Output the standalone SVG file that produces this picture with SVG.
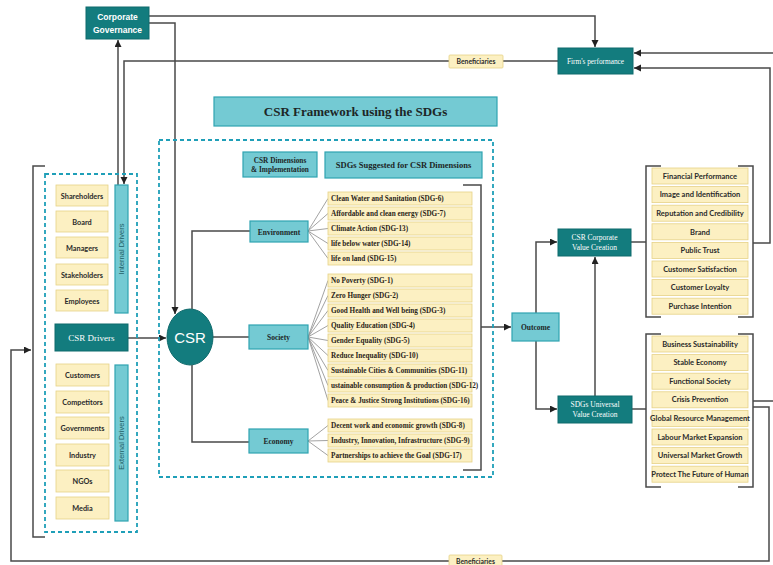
<svg xmlns="http://www.w3.org/2000/svg" width="773" height="565" viewBox="0 0 773 565">
<style>
.dk{fill:#137c7e;stroke:#0f6a6c;stroke-width:1}
.lt{fill:#74cad3;stroke:#2fa3b1;stroke-width:1.2}
.yl{fill:#fcf0c2;stroke:#e6d287;stroke-width:0.8}
.dash{fill:none;stroke:#1f9fb8;stroke-width:1.8;stroke-dasharray:4 3}
.ln{fill:none;stroke:#4a4a4a;stroke-width:1.5}
.fan{fill:none;stroke:#8a8a8a;stroke-width:0.8}
.wsans{font-family:"Liberation Sans",Arial,sans-serif;fill:#fff}
.wserif{font-family:"Liberation Serif","Times New Roman",serif;fill:#fff}
.bserif{font-family:"Liberation Serif","Times New Roman",serif;font-weight:bold;fill:#1d2626}
.bsans{font-family:Lato,"Liberation Sans",sans-serif;font-weight:bold;fill:#2a2a2a}
.sdg{font-family:"Liberation Serif","Times New Roman",serif;font-weight:bold;fill:#2a2418;font-size:7.2px}
.rl{font-family:Lato,"Liberation Sans",sans-serif;font-weight:bold;fill:#2a2a2a;font-size:7.5px;text-anchor:middle}
.li{font-family:Lato,"Liberation Sans",sans-serif;font-weight:bold;fill:#2a2a2a;font-size:7.3px;text-anchor:middle}
.vt{font-family:"Liberation Sans",Arial,sans-serif;fill:#1f5e66;font-size:7.5px;text-anchor:middle}
</style>
<defs>
<marker id="ar" markerUnits="userSpaceOnUse" markerWidth="8" markerHeight="8" refX="7" refY="3.5" orient="auto">
<path d="M0,0 L7,3.5 L0,7 z" fill="#222"/>
</marker>
</defs>
<rect width="773" height="565" fill="#fff"/>

<g id="connectors">
<path class="ln" d="M149,16 H595 V47" marker-end="url(#ar)"/>
<path class="ln" d="M149,23 H175 V314" marker-end="url(#ar)"/>
<path class="ln" d="M118,185 V40" marker-end="url(#ar)"/>
<path class="ln" d="M558,61 H124 V184" marker-end="url(#ar)"/>
<path class="ln" d="M773,53 H634" marker-end="url(#ar)"/>
<path class="ln" d="M753,243 H770 V68 H634" marker-end="url(#ar)"/>
<path class="ln" d="M753,401 H773"/>
<path class="ln" d="M753,407 H769 V561 H11 V350 H31" marker-end="url(#ar)"/>
<path class="ln" d="M45,166 H33 V537 H45"/>
<path class="ln" d="M128,338 H166" marker-end="url(#ar)"/>
<path class="ln" d="M192,309 V231 H250"/>
<path class="ln" d="M213,337 H249"/>
<path class="ln" d="M192,365 V442 H249"/>
<path class="ln" d="M463,185 H481 V470 H463"/>
<path class="ln" d="M481,327 H511" marker-end="url(#ar)"/>
<path class="ln" d="M536,313 V242 H557" marker-end="url(#ar)"/>
<path class="ln" d="M536,341 V409 H557" marker-end="url(#ar)"/>
<path class="ln" d="M595,396 V257" marker-end="url(#ar)"/>
<path class="ln" d="M631,242 H646"/>
<path class="ln" d="M632,409 H646"/>
<path class="ln" d="M661,166 H646 V317 H661 M738,166 H753 V317 H738"/>
<path class="ln" d="M661,334 H646 V487 H661 M738,334 H753 V487 H738"/>
<g class="fan">
<path d="M308,231 L328,198.5 M308,231 L328,213.5 M308,231 L328,228.5 M308,231 L328,243.5 M308,231 L328,258.5"/>
<path d="M308,337 L328,280.5 M308,337 L328,295.5 M308,337 L328,310.5 M308,337 L328,325.5 M308,337 L328,340.5 M308,337 L328,355.5 M308,337 L328,370.5 M308,337 L328,385.5 M308,337 L328,400.5"/>
<path d="M308,441 L328,425.5 M308,441 L328,440.5 M308,441 L328,455.5"/>
</g>
</g>

<g id="corporate-governance">
<rect class="dk" x="86" y="7" width="63" height="32"/>
<text class="wsans" font-size="8.5" font-weight="bold" text-anchor="middle" x="117.5" y="20">Corporate</text>
<text class="wsans" font-size="8.5" font-weight="bold" text-anchor="middle" x="117.5" y="33">Governance</text>
</g>

<g id="beneficiaries-top">
<rect class="yl" x="449" y="55" width="54" height="13" rx="1"/>
<text class="bsans" font-size="6.8" text-anchor="middle" x="476" y="64">Beneficiaries</text>
</g>

<g id="beneficiaries-bottom">
<rect class="yl" x="449" y="555" width="53" height="13" rx="1"/>
<text class="bsans" font-size="6.8" text-anchor="middle" x="475.5" y="564">Beneficiaries</text>
</g>

<g id="firms-performance">
<rect class="dk" x="558" y="48" width="75" height="26"/>
<text class="wserif" font-size="7.3" text-anchor="middle" x="595.5" y="63.5">Firm's performance</text>
</g>

<g id="title">
<rect class="lt" x="214" y="97" width="283" height="29"/>
<text class="bserif" font-size="13" text-anchor="middle" x="355.5" y="116">CSR Framework using the SDGs</text>
</g>

<g id="drivers-frame">
<rect class="dash" x="45" y="174" width="92" height="358"/>
</g>

<g id="internal-drivers">
<rect class="yl" x="56" y="185" width="52" height="21"/>
<text class="li" x="82" y="198.5">Shareholders</text>
<rect class="yl" x="56" y="211" width="52" height="21"/>
<text class="li" x="82" y="224.5">Board</text>
<rect class="yl" x="56" y="237" width="52" height="21"/>
<text class="li" x="82" y="250.5">Managers</text>
<rect class="yl" x="56" y="264" width="52" height="21"/>
<text class="li" x="82" y="277.5">Stakeholders</text>
<rect class="yl" x="56" y="290" width="52" height="21"/>
<text class="li" x="82" y="303.5">Employees</text>
<rect class="lt" x="115" y="185" width="13" height="128"/>
<text class="vt" transform="translate(124.2,249) rotate(-90)">Internal Drivers</text>
</g>

<g id="csr-drivers">
<rect class="dk" x="55" y="324" width="73" height="27"/>
<text class="wserif" font-size="9" text-anchor="middle" x="91.5" y="341">CSR Drivers</text>
</g>

<g id="external-drivers">
<rect class="yl" x="56" y="364" width="53" height="22"/>
<text class="li" x="82.5" y="378">Customers</text>
<rect class="yl" x="56" y="391" width="53" height="22"/>
<text class="li" x="82.5" y="405">Competitors</text>
<rect class="yl" x="56" y="417" width="53" height="22"/>
<text class="li" x="82.5" y="431">Governments</text>
<rect class="yl" x="56" y="444" width="53" height="22"/>
<text class="li" x="82.5" y="458">Industry</text>
<rect class="yl" x="56" y="470" width="53" height="22"/>
<text class="li" x="82.5" y="484">NGOs</text>
<rect class="yl" x="56" y="497" width="53" height="22"/>
<text class="li" x="82.5" y="511">Media</text>
<rect class="lt" x="115" y="365" width="13" height="156"/>
<text class="vt" transform="translate(124.2,443) rotate(-90)">External Drivers</text>
</g>

<g id="csr">
<ellipse cx="190" cy="337" rx="23" ry="28" fill="#137c7e" stroke="#0f6a6c"/>
<text class="wsans" font-size="15" text-anchor="middle" x="190" y="342.5">CSR</text>
</g>

<g id="framework-frame">
<rect class="dash" x="159" y="140" width="334" height="337"/>
</g>

<g id="csr-dimensions-header">
<rect class="lt" x="243" y="152" width="74" height="25"/>
<text class="bserif" font-size="7.3" text-anchor="middle" x="280" y="162.5">CSR Dimensions</text>
<text class="bserif" font-size="7.3" text-anchor="middle" x="280" y="172">&amp; Implementation</text>
</g>

<g id="sdgs-header">
<rect class="lt" x="325" y="152" width="157" height="26"/>
<text class="bserif" font-size="8.5" text-anchor="middle" x="403.5" y="168">SDGs Suggested for CSR Dimensions</text>
</g>

<g id="environment">
<rect class="lt" x="250" y="221" width="58" height="21"/>
<text class="bserif" font-size="7.5" text-anchor="middle" x="279" y="234.5">Environment</text>
</g>
<g id="society">
<rect class="lt" x="249" y="325" width="59" height="24"/>
<text class="bserif" font-size="7.5" text-anchor="middle" x="278.5" y="340">Society</text>
</g>
<g id="economy">
<rect class="lt" x="249" y="429" width="59" height="24"/>
<text class="bserif" font-size="7.5" text-anchor="middle" x="278.5" y="444">Economy</text>
</g>

<g id="env-sdgs">
<rect class="yl" x="328" y="192" width="144" height="13"/><text class="sdg" x="331" y="201">Clean Water and Sanitation (SDG-6)</text>
<rect class="yl" x="328" y="207" width="144" height="13"/><text class="sdg" x="331" y="216">Affordable and clean energy (SDG-7)</text>
<rect class="yl" x="328" y="222" width="144" height="13"/><text class="sdg" x="331" y="231">Climate Action (SDG-13)</text>
<rect class="yl" x="328" y="237" width="144" height="13"/><text class="sdg" x="331" y="246">life below water (SDG-14)</text>
<rect class="yl" x="328" y="252" width="144" height="13"/><text class="sdg" x="331" y="261">life on land (SDG-15)</text>
</g>

<g id="society-sdgs">
<rect class="yl" x="328" y="274" width="144" height="13"/><text class="sdg" x="331" y="283">No Poverty (SDG-1)</text>
<rect class="yl" x="328" y="289" width="144" height="13"/><text class="sdg" x="331" y="298">Zero Hunger (SDG-2)</text>
<rect class="yl" x="328" y="304" width="144" height="13"/><text class="sdg" x="331" y="313">Good Health and Well being (SDG-3)</text>
<rect class="yl" x="328" y="319" width="144" height="13"/><text class="sdg" x="331" y="328">Quality Education (SDG-4)</text>
<rect class="yl" x="328" y="334" width="144" height="13"/><text class="sdg" x="331" y="343">Gender Equality (SDG-5)</text>
<rect class="yl" x="328" y="349" width="144" height="13"/><text class="sdg" x="331" y="358">Reduce Inequality (SDG-10)</text>
<rect class="yl" x="328" y="364" width="144" height="13"/><text class="sdg" x="331" y="373">Sustainable Cities &amp; Communities (SDG-11)</text>
<rect class="yl" x="328" y="379" width="144" height="13"/><text class="sdg" x="331" y="388">ustainable consumption &amp; production (SDG-12)</text>
<rect class="yl" x="328" y="394" width="144" height="13"/><text class="sdg" x="331" y="403">Peace &amp; Justice Strong Institutions (SDG-16)</text>
</g>

<g id="economy-sdgs">
<rect class="yl" x="328" y="419" width="144" height="13"/><text class="sdg" x="331" y="428">Decent work and economic growth (SDG-8)</text>
<rect class="yl" x="328" y="434" width="144" height="13"/><text class="sdg" x="331" y="443">Industry, Innovation, Infrastructure (SDG-9)</text>
<rect class="yl" x="328" y="449" width="144" height="13"/><text class="sdg" x="331" y="458">Partnerships to achieve the Goal (SDG-17)</text>
</g>

<g id="outcome">
<rect class="lt" x="512" y="313" width="47" height="28"/>
<text class="bserif" font-size="7.5" font-weight="normal" text-anchor="middle" x="535.5" y="330">Outcome</text>
</g>

<g id="csr-corporate-value">
<rect class="dk" x="558" y="229" width="73" height="27"/>
<text class="wserif" font-size="7.5" text-anchor="middle" x="594.5" y="240">CSR Corporate</text>
<text class="wserif" font-size="7.5" text-anchor="middle" x="594.5" y="250">Value Creation</text>
</g>

<g id="sdgs-universal-value">
<rect class="dk" x="558" y="396" width="74" height="27"/>
<text class="wserif" font-size="7.5" text-anchor="middle" x="595" y="407">SDGs  Universal</text>
<text class="wserif" font-size="7.5" text-anchor="middle" x="595" y="417">Value Creation</text>
</g>

<g id="corporate-outcomes">
<rect class="yl" x="652" y="168" width="96" height="16"/><text class="rl" x="700" y="178.7">Financial Performance</text>
<rect class="yl" x="652" y="186.6" width="96" height="16"/><text class="rl" x="700" y="197.3">Image and Identification</text>
<rect class="yl" x="652" y="205.2" width="96" height="16"/><text class="rl" x="700" y="215.9">Reputation and Credibility</text>
<rect class="yl" x="652" y="223.8" width="96" height="16"/><text class="rl" x="700" y="234.5">Brand</text>
<rect class="yl" x="652" y="242.4" width="96" height="16"/><text class="rl" x="700" y="253.1">Public Trust</text>
<rect class="yl" x="652" y="261" width="96" height="16"/><text class="rl" x="700" y="271.7">Customer Satisfaction</text>
<rect class="yl" x="652" y="279.6" width="96" height="16"/><text class="rl" x="700" y="290.3">Customer Loyalty</text>
<rect class="yl" x="652" y="298.2" width="96" height="16"/><text class="rl" x="700" y="308.9">Purchase Intention</text>
</g>

<g id="universal-outcomes">
<rect class="yl" x="652" y="336" width="96" height="16"/><text class="rl" x="700" y="346.5" font-size="6.8">Business Sustainability</text>
<rect class="yl" x="652" y="354.6" width="96" height="16"/><text class="rl" x="700" y="365.1" font-size="6.8">Stable Economy</text>
<rect class="yl" x="652" y="373.2" width="96" height="16"/><text class="rl" x="700" y="383.7" font-size="6.8">Functional Society</text>
<rect class="yl" x="652" y="391.8" width="96" height="16"/><text class="rl" x="700" y="402.3" font-size="6.8">Crisis Prevention</text>
<rect class="yl" x="652" y="410.4" width="96" height="16"/><text class="rl" x="700" y="420.9" font-size="6.8">Global Resource Management</text>
<rect class="yl" x="652" y="429" width="96" height="16"/><text class="rl" x="700" y="439.5" font-size="6.8">Labour Market Expansion</text>
<rect class="yl" x="652" y="447.6" width="96" height="16"/><text class="rl" x="700" y="458.1" font-size="6.8">Universal Market Growth</text>
<rect class="yl" x="652" y="466.2" width="96" height="16"/><text class="rl" x="700" y="476.7" font-size="6.8">Protect The Future of Human</text>
</g>
</svg>
